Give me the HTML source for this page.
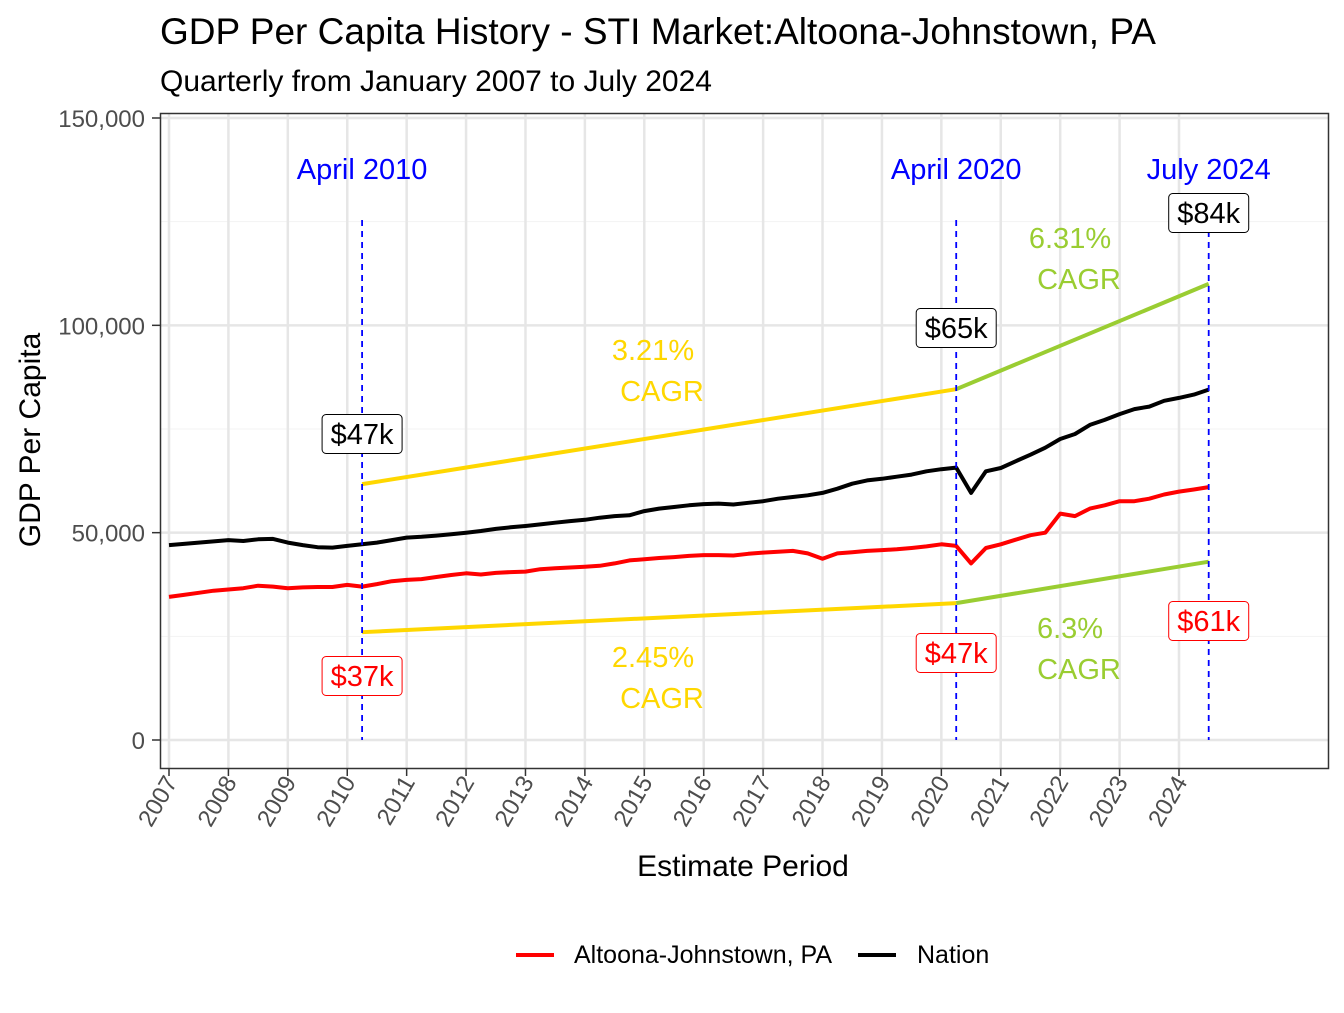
<!DOCTYPE html>
<html><head><meta charset="utf-8"><style>
body{margin:0;background:#fff;font-family:"Liberation Sans",Arial,sans-serif}
svg text{font-family:"Liberation Sans",Arial,sans-serif}
</style></head><body>
<svg id="chart" width="1344" height="1008" xmlns="http://www.w3.org/2000/svg">
<rect width="1344" height="1008" fill="#fff"/>
<text x="160" y="44" font-size="37" fill="#000">GDP Per Capita History - STI Market:Altoona-Johnstown, PA</text>
<text x="160" y="91" font-size="30" fill="#000">Quarterly from January 2007 to July 2024</text>
<g id="grid"></g>
<g id="marks"></g>
<rect x="160.5" y="113.5" width="1168" height="655" fill="none" stroke="#333" stroke-width="1.5"/>
<g id="axes"></g>
<text transform="translate(40,440) rotate(-90)" text-anchor="middle" font-size="30">GDP Per Capita</text>
<text x="743" y="876" text-anchor="middle" font-size="30">Estimate Period</text>
<g>
<line x1="516" y1="955" x2="554" y2="955" stroke="#f00" stroke-width="4"/>
<text x="574" y="963" font-size="25">Altoona-Johnstown, PA</text>
<line x1="858" y1="955" x2="896" y2="955" stroke="#000" stroke-width="4"/>
<text x="917" y="963" font-size="25">Nation</text>
</g>
</svg>
<script>
const years=[2007,2008,2009,2010,2011,2012,2013,2014,2015,2016,2017,2018,2019,2020,2021,2022,2023,2024];
const yTicks=[0,50000,100000,150000];
const yTickLabels=["0","50,000","100,000","150,000"];
const nation=[47.0,47.3,47.6,47.9,48.2,48.0,48.4,48.5,47.6,47.0,46.5,46.4,46.8,47.2,47.6,48.2,48.8,49.0,49.3,49.6,50.0,50.4,50.9,51.3,51.6,52.0,52.4,52.8,53.1,53.6,54.0,54.2,55.2,55.8,56.2,56.6,56.9,57.0,56.8,57.2,57.6,58.2,58.6,59.0,59.6,60.6,61.8,62.6,63.0,63.5,64.0,64.8,65.3,65.7,59.6,64.8,65.6,67.2,68.8,70.5,72.6,73.8,76.0,77.2,78.6,79.8,80.4,81.8,82.5,83.3,84.5];
const altoona=[34.5,35.0,35.5,36.0,36.3,36.6,37.2,37.0,36.6,36.8,36.9,36.9,37.4,37.0,37.6,38.3,38.6,38.8,39.3,39.8,40.2,39.9,40.3,40.5,40.6,41.2,41.4,41.6,41.8,42.0,42.6,43.3,43.6,43.9,44.1,44.4,44.6,44.6,44.5,44.9,45.2,45.4,45.6,45.0,43.7,45.0,45.3,45.6,45.8,46.0,46.3,46.7,47.2,46.8,42.6,46.3,47.2,48.3,49.4,50.0,54.6,54.0,55.8,56.6,57.6,57.6,58.2,59.2,59.9,60.4,61.0];
const markerTimes=[2010.25,2020.25,2024.5];
const markerNames=["April 2010","April 2020","July 2024"];
const nationLabels=["$47k","$65k","$84k"];
const altoonaLabels=["$37k","$47k","$61k"];
const upperCagr=[61.7,84.6,110.0];
const lowerCagr=[26.0,33.0,43.0];
const cagrTop=["3.21%","6.31%"];
const cagrBottom=["2.45%","6.3%"];
const X=t=>169+(t-2007)*(1179-169)/17;
const Y=v=>740-v/150000*(740-118);
const NS="http://www.w3.org/2000/svg";
function mk(tag,attrs,parent,txt){const e=document.createElementNS(NS,tag);for(const k in attrs)e.setAttribute(k,attrs[k]);if(txt!==undefined)e.textContent=txt;parent.appendChild(e);return e;}
const grid=document.getElementById('grid'),marks=document.getElementById('marks'),axes=document.getElementById('axes');
for(let i=0;i<yTicks.length;i++){
  if(i<yTicks.length-1){const g=mk('line',{x1:160,x2:1328,y1:Y(yTicks[i]+25000),y2:Y(yTicks[i]+25000),stroke:'#f3f3f3','stroke-width':1},grid);
  
  }
  const l=mk('line',{x1:160,x2:1328,y1:Y(yTicks[i]),y2:Y(yTicks[i]),stroke:'#e6e6e6','stroke-width':2.5},grid);
  
  
  const tk=mk('line',{x1:152,x2:160,y1:Y(yTicks[i]),y2:Y(yTicks[i]),stroke:'#333','stroke-width':1.5},axes);
  
  
  const t=mk('text',{x:145,y:Y(yTicks[i])+9,'text-anchor':'end','font-size':24,fill:'#4d4d4d'},axes,yTickLabels[i]);
  
  
}
years.forEach(yr=>{
  const l=mk('line',{x1:X(yr),x2:X(yr),y1:113,y2:768,stroke:'#e6e6e6','stroke-width':2.5},grid);
  
  
  const tk=mk('line',{x1:X(yr),x2:X(yr),y1:768,y2:776,stroke:'#333','stroke-width':1.5},axes);
  
  
  const t=mk('text',{transform:`translate(${X(yr)+9},782) rotate(-60)`,'text-anchor':'end','font-size':24,fill:'#4d4d4d'},axes,String(yr));
  
  
});
function seriesPath(arr,color,name){
  const d=arr.map((v,i)=>(i?'L':'M')+X(2007+i*0.25).toFixed(1)+','+Y(v*1000).toFixed(1)).join('');
  const p=mk('path',{d:d,fill:'none',stroke:color,'stroke-width':4,'stroke-linejoin':'round'},marks);
  
  
}
function cagr(arr,name){
  const cols=['#FFD700','#9ACD32'];
  for(let i=0;i<2;i++){
    const l=mk('line',{x1:X(markerTimes[i]),y1:Y(arr[i]*1000),x2:X(markerTimes[i+1]),y2:Y(arr[i+1]*1000),stroke:cols[i],'stroke-width':4},marks);
    
    
  }
}
cagr(upperCagr,'nation-cagr-line');
cagr(lowerCagr,'altoona-cagr-line');
seriesPath(nation,'#000','nation-line');
seriesPath(altoona,'#f00','altoona-line');
markerTimes.forEach((t,i)=>{
  const l=mk('line',{x1:X(t),x2:X(t),y1:220,y2:740,stroke:'#00f','stroke-width':1.8,'stroke-dasharray':'6,5'},marks);
  
  
  const tx=mk('text',{x:X(t),y:179,'text-anchor':'middle','font-size':29,fill:'#00f'},marks,markerNames[i]);
  
  
});
const nationBoxY=[434,328,213],altBoxY=[676,653,621];
function box(t,cy,txt,color,name){
  const w=80,h=39;
  const r=mk('rect',{x:X(t)-w/2,y:cy-h/2,width:w,height:h,rx:4,fill:'#fff',stroke:color,'stroke-width':1},marks);
  
  
  const tx=mk('text',{x:X(t),y:cy+10,'text-anchor':'middle','font-size':29,fill:color},marks,txt);
  
  
}
markerTimes.forEach((t,i)=>{box(t,nationBoxY[i],nationLabels[i],'#000','nation-value-label');box(t,altBoxY[i],altoonaLabels[i],'#f00','altoona-value-label');});
const cagrPos=[[653,350],[1070,238]],cagrPosB=[[653,657],[1070,628]],cc=['#FFD700','#9ACD32'];
for(let i=0;i<2;i++){
  [[cagrTop,cagrPos],[cagrBottom,cagrPosB]].forEach(([lab,pos])=>{
    const a=mk('text',{x:pos[i][0],y:pos[i][1]+10,'text-anchor':'middle','font-size':29,fill:cc[i]},marks,lab[i]);
    
    
    const b=mk('text',{x:pos[i][0]+9,y:pos[i][1]+51,'text-anchor':'middle','font-size':29,fill:cc[i]},marks,'CAGR');
    
    
  });
}
</script>
</body></html>
